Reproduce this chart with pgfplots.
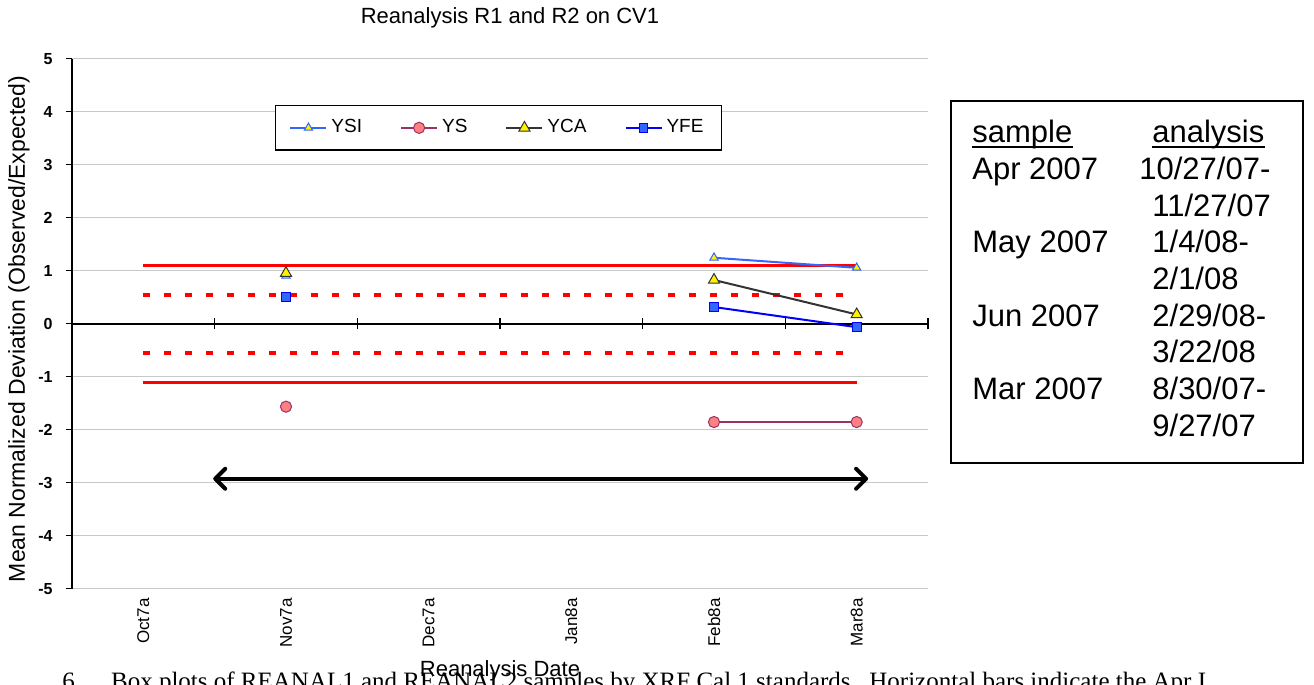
\documentclass[border=0pt]{standalone}
\usepackage{pgfplots}
\pgfplotsset{compat=1.18}
\usepackage{fontspec}
\setmainfont{Liberation Sans}
\newfontfamily\seriffont{Liberation Serif}
\usetikzlibrary{arrows.meta}
\definecolor{ysiC}{HTML}{3366FF}
\definecolor{ysC}{HTML}{993366}
\definecolor{ysF}{HTML}{FF8080}
\definecolor{ycaC}{HTML}{333333}
\definecolor{yfeC}{HTML}{0000FF}
\definecolor{yfeF}{HTML}{3366FF}
\definecolor{gridC}{HTML}{C8C8C8}
\begin{document}
\begin{tikzpicture}
\useasboundingbox (0,0) rectangle (657pt,342.5pt);
\begin{axis}[
  at={(36pt,48pt)}, anchor=south west,
  scale only axis, width=428pt, height=265pt,
  xmin=-0.5, xmax=5.5, ymin=-5, ymax=5,
  axis line style={draw=none},
  xtick=\empty,
  minor xtick={-0.5,0.5,1.5,2.5,3.5,4.5,5.5},
  xminorgrids,
  ytick={-5,-4,-3,-2,-1,0,1,2,3,4,5}, ymajorgrids,
  grid style={gridC, line width=0.5pt},
  minor grid style={gridC, line width=0.5pt},
  xtick pos=bottom, ytick pos=left,
  minor x tick style={draw=none},
  ytick style={black, line width=0.5pt},
  tick align=outside, major tick length=3pt,
  yticklabel style={xshift=-6.5pt, anchor=east, inner sep=0pt, font=\bfseries\fontsize{8}{9}\selectfont},
  /pgf/number format/assume math mode=true,
  legend image code/.code={\draw[mark repeat=2,mark phase=2] plot coordinates {(0pt,0pt)(9pt,0pt)(18pt,0pt)};},
  legend style={at={(0.237,0.913)}, anchor=north west, legend columns=4, draw=black, line width=0.6pt,
    font=\fontsize{9.5}{10}\selectfont, inner xsep=7pt, inner ysep=5pt,
    /tikz/every even column/.append style={column sep=17pt}},
  unbounded coords=jump,
  clip=false,
]
% axis lines
\draw[black, line width=0.6pt] (axis cs:-0.5,-5) -- (axis cs:-0.5,5);
\draw[black, line width=0.6pt] (axis cs:-0.5,0) -- (axis cs:5.5,0);
\pgfplotsinvokeforeach{0.5,1.5,2.5,3.5,4.5,5.5}{\draw[black, line width=0.6pt] ([yshift=-2.75pt]axis cs:#1,0) -- ([yshift=2.75pt]axis cs:#1,0);}
% category labels
\begin{scope}[every node/.style={rotate=90, anchor=east, inner sep=0pt, font=\fontsize{8.5}{9}\selectfont}]
\node at ([yshift=-4.5pt]axis cs:0,-5) {Oct7a};
\node at ([yshift=-4.5pt]axis cs:1,-5) {Nov7a};
\node at ([yshift=-4.5pt]axis cs:2,-5) {Dec7a};
\node at ([yshift=-4.5pt]axis cs:3,-5) {Jan8a};
\node at ([yshift=-4.5pt]axis cs:4,-5) {Feb8a};
\node at ([yshift=-4.5pt]axis cs:5,-5) {Mar8a};
\end{scope}
% limit lines
\addplot[red, line width=1.75pt, forget plot] coordinates {(0,1.1)(5,1.1)};
\addplot[red, line width=1.75pt, forget plot] coordinates {(0,-1.1)(5,-1.1)};
\addplot[red, line width=2pt, dash pattern=on 3.5pt off 7pt, forget plot] coordinates {(0,0.55)(5,0.55)};
\addplot[red, line width=2pt, dash pattern=on 3.5pt off 7pt, forget plot] coordinates {(0,-0.55)(5,-0.55)};
% arrow
\addplot[black, line width=2pt, {Straight Barb[length=5pt,width=10pt,round]}-{Straight Barb[length=5pt,width=10pt,round]}, forget plot] coordinates {(0.49,-2.92)(5.08,-2.92)};
% series
\addplot[color=ysiC, line width=1pt, mark=triangle*, mark size=2.4pt, mark options={solid, fill=yellow, draw=ysiC, line width=0.5pt}] coordinates {(1,0.91)(2,nan)(4,1.25)(5,1.06)};
\addlegendentry{YSI}
\addplot[color=ysC, line width=1pt, mark=*, mark size=2.8pt, mark options={solid, fill=ysF, draw=ysC, line width=0.5pt}] coordinates {(1,-1.56)(2,nan)(4,-1.85)(5,-1.85)};
\addlegendentry{YS}
\addplot[color=ycaC, line width=1pt, mark=triangle*, mark size=3.2pt, mark options={solid, fill=yellow, draw=ycaC, line width=0.5pt}] coordinates {(1,0.96)(2,nan)(4,0.83)(5,0.18)};
\addlegendentry{YCA}
\addplot[color=yfeC, line width=1pt, mark=square*, mark size=2.2pt, mark options={solid, fill=yfeF, draw=yfeC, line width=0.5pt}] coordinates {(1,0.51)(2,nan)(4,0.32)(5,-0.06)};
\addlegendentry{YFE}
\end{axis}
% titles and labels
\node[font=\fontsize{11}{13}\selectfont] at (255pt,333.5pt) {Reanalysis R1 and R2 on CV1};
\node[font=\fontsize{11}{13}\selectfont] at (250pt,7pt) {Reanalysis Date};
\node[rotate=90, font=\fontsize{11.5}{13}\selectfont] at (9.5pt,178pt) {Mean Normalized Deviation (Observed/Expected)};
% clipped caption of the surrounding document
\node[anchor=base west, inner sep=0pt, font=\seriffont\fontsize{12.5}{14}\selectfont] at (31pt,-2.5pt) {6.\hspace{1.2em}Box plots of REANAL1 and REANAL2 samples by XRF Cal 1 standards.\ \ Horizontal bars indicate the Apr I};
% text box
\draw[line width=0.8pt] (475.5pt,111pt) rectangle (651.5pt,292pt);
\begin{scope}[every node/.style={inner sep=0pt, anchor=base west, font=\fontsize{15.5}{17}\selectfont}]
\node (s) at (486pt,271.15pt) {sample};
\node (a) at (576pt,271.15pt) {analysis};
\draw[line width=0.9pt] ([yshift=-2.3pt]s.base west) -- ([yshift=-2.3pt]s.base east);
\draw[line width=0.9pt] ([yshift=-2.3pt]a.base west) -- ([yshift=-2.3pt]a.base east);
\node at (486pt,252.8pt) {Apr 2007};
\node at (569.5pt,252.8pt) {10/27/07-};
\node at (576pt,234.45pt) {11/27/07};
\node at (486pt,216.1pt) {May 2007};
\node at (576pt,216.1pt) {1/4/08-};
\node at (576pt,197.75pt) {2/1/08};
\node at (486pt,179.4pt) {Jun 2007};
\node at (576pt,179.4pt) {2/29/08-};
\node at (576pt,161.05pt) {3/22/08};
\node at (486pt,142.7pt) {Mar 2007};
\node at (576pt,142.7pt) {8/30/07-};
\node at (576pt,124.35pt) {9/27/07};
\end{scope}
\end{tikzpicture}
\end{document}
